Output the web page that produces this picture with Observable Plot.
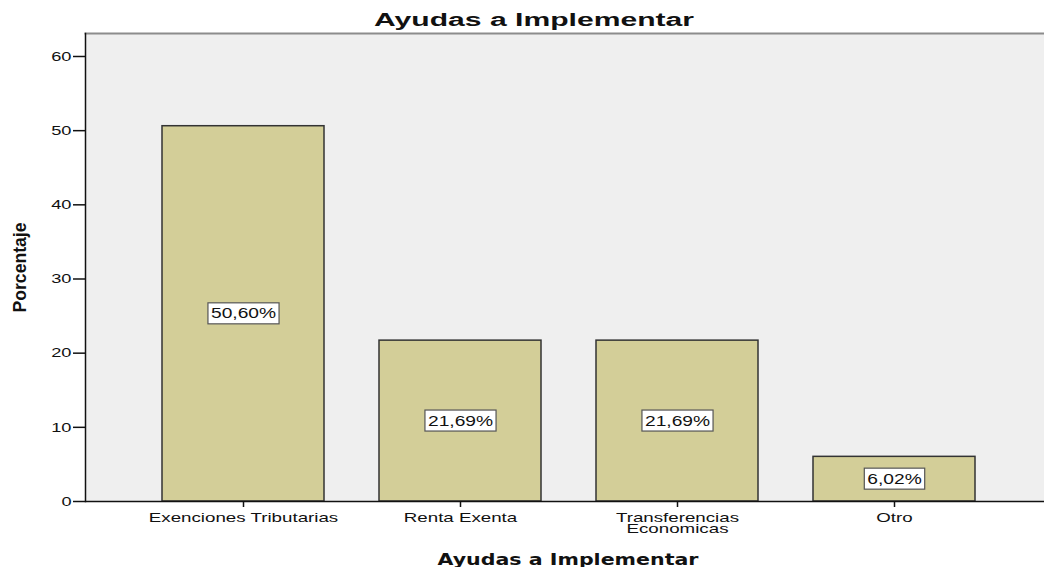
<!DOCTYPE html>
<html><head><meta charset="utf-8">
<script src="https://cdn.jsdelivr.net/npm/d3@7"></script>
<script src="https://cdn.jsdelivr.net/npm/@observablehq/plot@0.6"></script>
<style>body{margin:0;background:#fff}</style>
</head><body>
<div id="chart"></div>
<script>
const categories = ["Exenciones Tributarias", "Renta Exenta", "Transferencias Economicas", "Otro"];
const tickLabels = ["Exenciones Tributarias", "Renta Exenta", "Transferencias\nEconomicas", "Otro"];
const percentages = [50.60, 21.69, 21.69, 6.02];
const yTicks = [0, 10, 20, 30, 40, 50, 60];
const titleText = "Ayudas a Implementar";
const xLabelText = "Ayudas a Implementar";
const yLabelText = "Porcentaje";

const data = categories.map((c, i) => ({category: c, value: percentages[i]}));
const fmt = v => v.toFixed(2).replace(".", ",") + "%";

const chart = Plot.plot({
  width: 1044, height: 567,
  marginTop: 33, marginLeft: 85, marginRight: 0, marginBottom: 66,
  style: {fontFamily: "'Liberation Sans', Arial, sans-serif", fontSize: "13px", background: "#fff", color: "#111"},
  x: {type: "band", domain: categories, range: [160, 977], paddingInner: 0.252, paddingOuter: 0},
  y: {domain: [0, 63.1]},
  marks: [
    Plot.frame({fill: "#efefef", stroke: null}),
    Plot.frame({anchor: "top", stroke: "#8c8c8c", strokeWidth: 2}),
    Plot.frame({anchor: "left", stroke: "#111", strokeWidth: 1.5}),
    Plot.barY(data, {x: "category", y: "value", fill: "#d3ce98", stroke: "#333", strokeWidth: 1.5}),
    Plot.ruleY([0], {stroke: "#111", strokeWidth: 1.5}),
    Plot.axisY({ticks: yTicks, tickSize: 12, tickPadding: 2, label: null, strokeWidth: 1.5}),
    Plot.axisX({tickSize: 6, tickPadding: 7, label: null, lineHeight: 0.85, strokeWidth: 1.5,
      tickFormat: d => tickLabels[categories.indexOf(d)]}),
    Plot.text(data, {x: "category", y: d => d.value / 2, text: d => fmt(d.value), fontSize: 14, fill: "#111"}),
    Plot.text([titleText], {frameAnchor: "top", dy: -20, dx: -31, fontWeight: "bold", fontSize: 18, fill: "#111"}),
    Plot.text([xLabelText], {frameAnchor: "bottom", dy: 63, dx: 3, fontWeight: "bold", fontSize: 15, fontFamily: "'DejaVu Sans', sans-serif", fill: "#111"}),
    Plot.text([yLabelText], {frameAnchor: "left", textAnchor: "middle", rotate: -90, dx: -65, fontWeight: "bold", fontSize: 18, fill: "#111"})
  ]
});

document.getElementById("chart").append(chart);

function findByContent(str) {
  return [...chart.querySelectorAll("text")].filter(t => t.textContent === str);
}
function stretchEls(texts, f) {
  texts.forEach(t => {
    const tsp = t.querySelectorAll("tspan");
    const els = tsp.length ? [...tsp] : [t];
    els.forEach(e => {
      try {
        const w = e.getComputedTextLength();
        e.setAttribute("textLength", (w * f).toFixed(1));
        e.setAttribute("lengthAdjust", "spacingAndGlyphs");
      } catch (err) {}
    });
  });
}
function fixLen(texts, L) {
  texts.forEach(t => {
    t.setAttribute("textLength", L);
    t.setAttribute("lengthAdjust", "spacingAndGlyphs");
  });
}

const allTexts = [...chart.querySelectorAll("text")];
const xTickTexts = allTexts.filter(t => tickLabels.some(l => l.replace("\n", "") === t.textContent));
const yTickTexts = allTexts.filter(t => yTicks.map(String).includes(t.textContent));
const valueTexts = allTexts.filter(t => percentages.map(fmt).includes(t.textContent));

stretchEls(xTickTexts, 1.44);
stretchEls(yTickTexts, 1.4);
stretchEls(valueTexts, 1.37);
findByContent(titleText).forEach(t => {
  const isBottom = t.getBoundingClientRect().top > 300;
  fixLen([t], isBottom ? 261 : 320);
});
fixLen(findByContent(yLabelText), 90);

// white boxes behind value labels
valueTexts.forEach(t => {
  const bb = t.getBBox();
  const L = parseFloat(t.getAttribute("textLength")) || bb.width;
  const cx = bb.x + bb.width / 2;
  const r = document.createElementNS("http://www.w3.org/2000/svg", "rect");
  r.setAttribute("x", cx - L / 2 - 3);
  r.setAttribute("width", L + 6);
  r.setAttribute("y", bb.y - 2.5);
  r.setAttribute("height", bb.height + 5);
  r.setAttribute("fill", "#fff");
  r.setAttribute("stroke", "#555");
  r.setAttribute("stroke-width", 1.2);
  if (t.getAttribute("transform")) r.setAttribute("transform", t.getAttribute("transform"));
  t.parentNode.insertBefore(r, t);
});
</script>
</body></html>
